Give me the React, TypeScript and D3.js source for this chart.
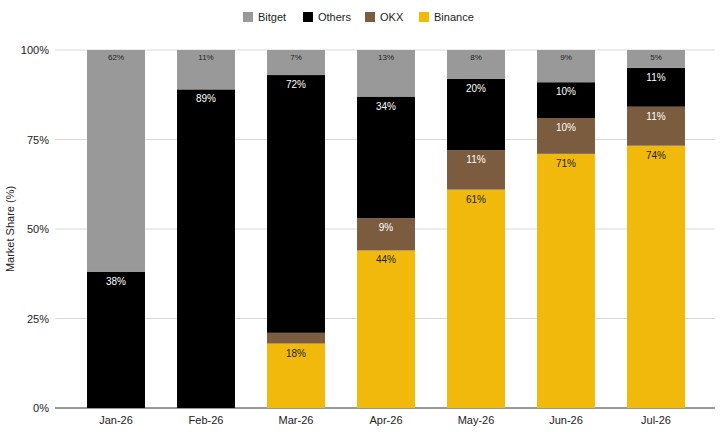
import React from 'react'
import * as d3 from 'd3'

const months = ['Jan-26', 'Feb-26', 'Mar-26', 'Apr-26', 'May-26', 'Jun-26', 'Jul-26']
const binance = [0, 0, 18, 44, 61, 71, 74]
const okx = [0, 0, 3, 9, 11, 10, 11]
const others = [38, 89, 72, 34, 20, 10, 11]
const bitget = [62, 11, 7, 13, 8, 9, 5]

const series = [
  { key: 'Binance', values: binance, color: '#f0b90b', text: '#222' },
  { key: 'OKX', values: okx, color: '#7b5c3f', text: '#fff' },
  { key: 'Others', values: others, color: '#000000', text: '#fff' },
  { key: 'Bitget', values: bitget, color: '#999999', text: '#222' },
]
const legendOrder = ['Bitget', 'Others', 'OKX', 'Binance']

const W = 723
const H = 434
const m = { top: 50, right: 8, bottom: 26, left: 55 }

export default function App() {
  const x = d3.scaleBand().domain(months).range([71, 701]).paddingInner(0.356).paddingOuter(0.178)
  const y = d3.scaleLinear().domain([0, 100]).range([H - m.bottom, m.top])
  const ticks = [0, 25, 50, 75, 100]
  const font = 'Arial, "Liberation Sans", sans-serif'

  const legendX = [243, 303, 365, 419]

  return (
    <svg width={W} height={H} style={{ position: 'absolute', left: 0, top: 0, fontFamily: font }}>
      <rect width={W} height={H} fill="#fff" />
      {legendOrder.map((k, i) => {
        const s = series.find((d) => d.key === k)!
        return (
          <g key={k} transform={`translate(${legendX[i]},12)`}>
            <rect width={10} height={10} fill={s.color} />
            <text x={15} y={9} fontSize={11} fill="#222">{k}</text>
          </g>
        )
      })}
      {ticks.map((t) => (
        <g key={t}>
          <line x1={m.left} x2={W - m.right} y1={y(t)} y2={y(t)} stroke={t === 0 ? '#333' : '#d9d9d9'} />
          <text x={m.left - 6} y={y(t) + 4} textAnchor="end" fontSize={11} fill="#222">{t}%</text>
        </g>
      ))}
      <text transform={`translate(14,${(m.top + H - m.bottom) / 2}) rotate(-90)`} textAnchor="middle" fontSize={11} fill="#222">
        Market Share (%)
      </text>
      {months.map((mo, i) => {
        const total = d3.sum(series, (s) => s.values[i])
        let acc = 0
        return (
          <g key={mo}>
            {series.map((s) => {
              const v = s.values[i]
              const y0 = y((acc / total) * 100)
              acc += v
              const y1 = y((acc / total) * 100)
              if (v <= 0) return null
              const small = s.key === 'Bitget'
              return (
                <g key={s.key}>
                  <rect x={x(mo)} y={y1} width={x.bandwidth()} height={y0 - y1} fill={s.color} />
                  {v >= 5 && (
                    <text
                      x={x(mo)! + x.bandwidth() / 2}
                      y={y1 + (small ? 10 : 13)}
                      textAnchor="middle"
                      fontSize={small ? 8 : 10}
                      fill={s.text}
                    >
                      {v}%
                    </text>
                  )}
                </g>
              )
            })}
            <text x={x(mo)! + x.bandwidth() / 2} y={H - m.bottom + 16} textAnchor="middle" fontSize={11} fill="#222">{mo}</text>
          </g>
        )
      })}
    </svg>
  )
}
